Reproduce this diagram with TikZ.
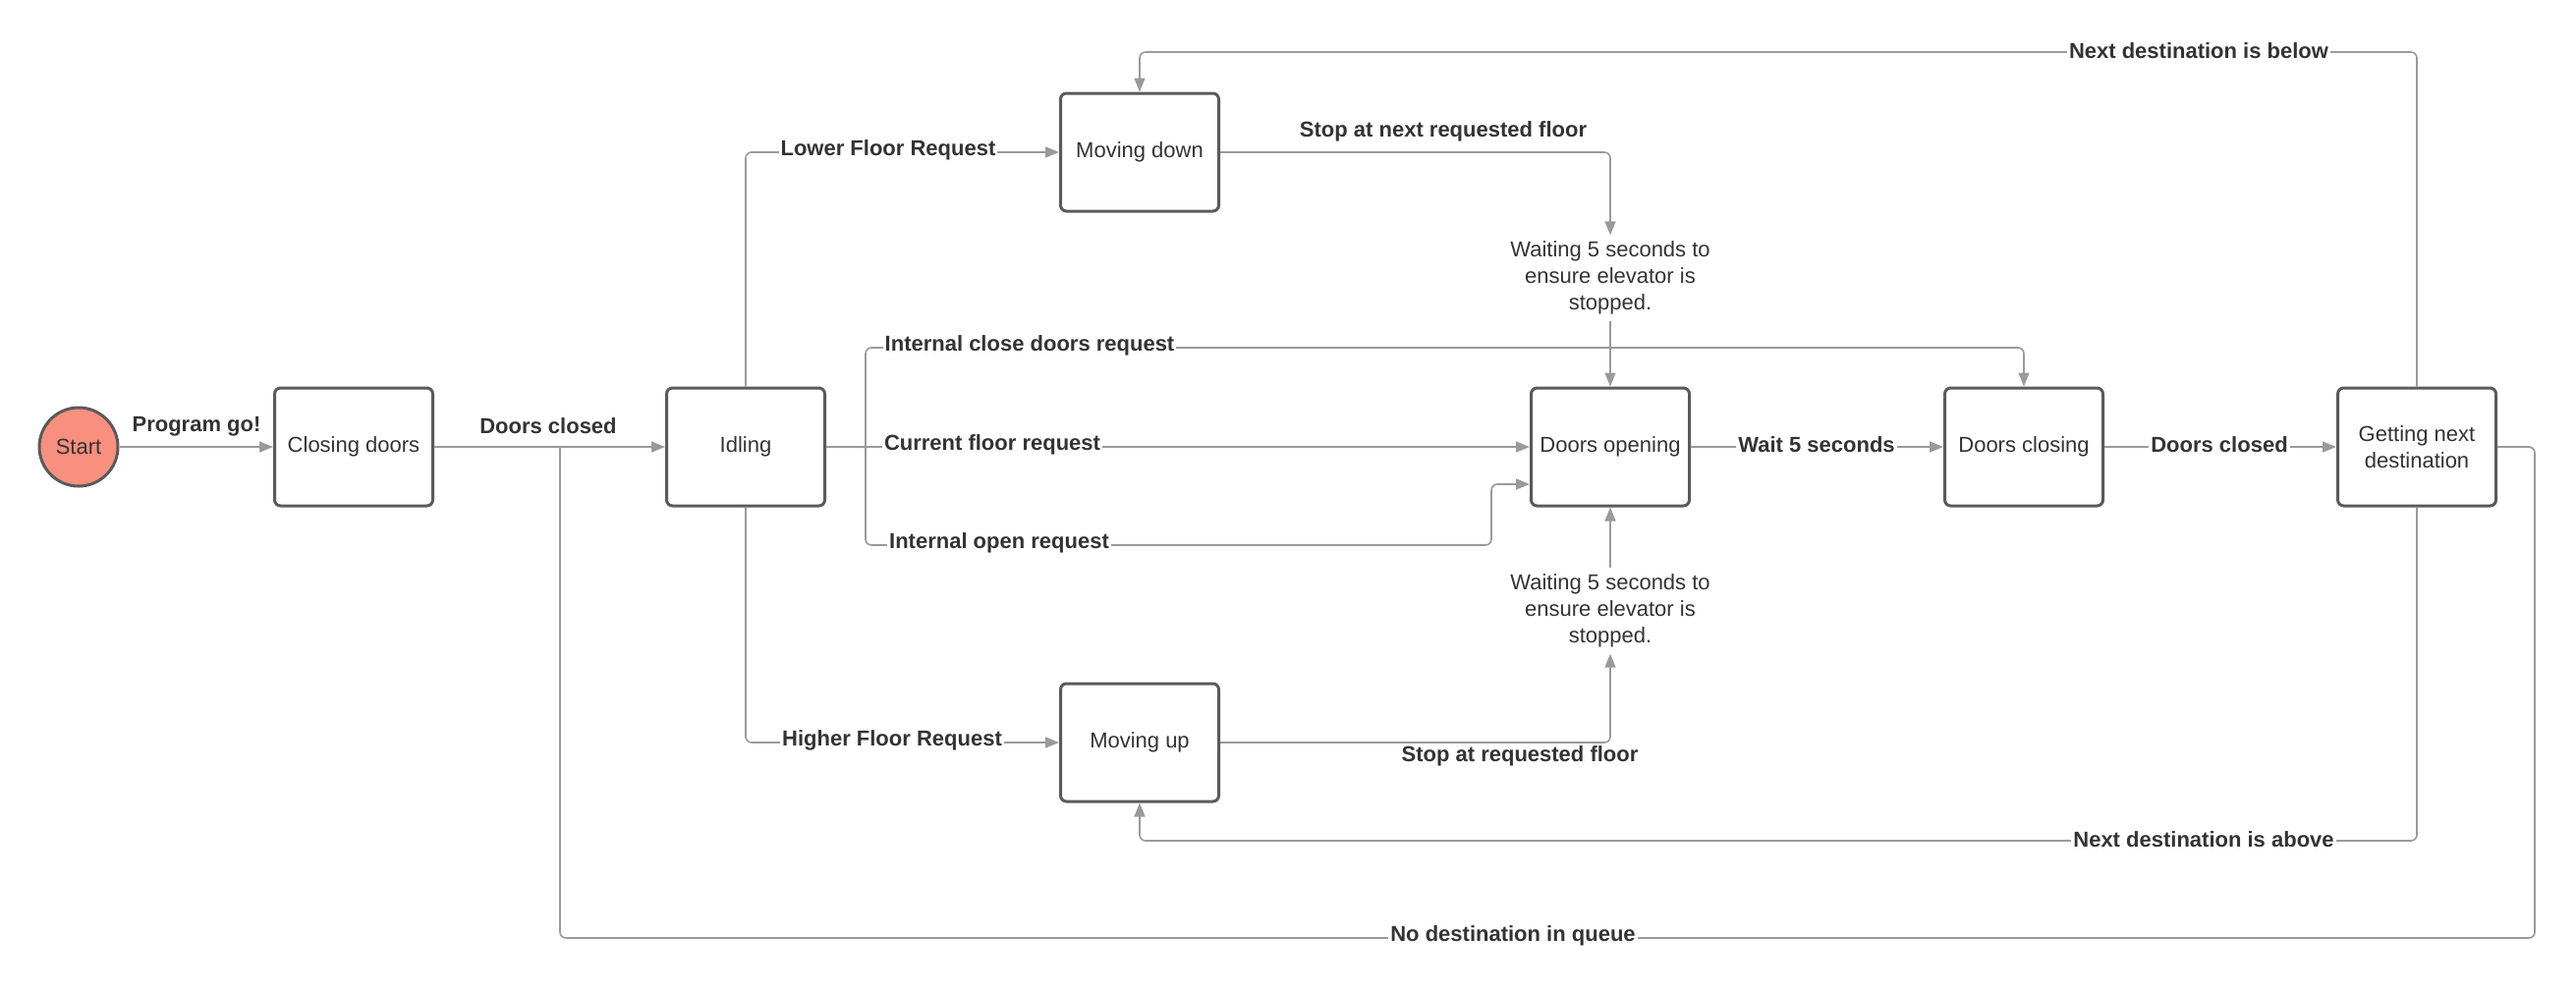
\documentclass[tikz,border=0pt]{standalone}
\usepackage{fontspec}
\setmainfont{Liberation Sans}
\usetikzlibrary{arrows.meta,calc}
\definecolor{linegray}{HTML}{9A9A9A}
\definecolor{boxgray}{HTML}{5A5A5A}
\definecolor{txt}{HTML}{333333}
\definecolor{salmon}{HTML}{F98F7E}
\begin{document}
\begin{tikzpicture}[x=0.5pt,y=-0.5pt,
  state/.style={draw=boxgray,line width=1.5pt,rounded corners=3pt,minimum width=80.5pt,minimum height=60pt,fill=white,text=txt,font=\fontsize{11}{13.5}\selectfont,align=center,inner sep=2pt},
  conn/.style={draw=linegray,line width=0.8pt,rounded corners=3pt},
  arr/.style={conn,-{Triangle[length=7pt,width=5.5pt]}},
  lbl/.style={font=\fontsize{11}{13.5}\selectfont\bfseries,text=txt,fill=white,inner sep=1pt},
  lblfree/.style={font=\fontsize{11}{13.5}\selectfont\bfseries,text=txt,inner sep=1pt},
  note/.style={font=\fontsize{11}{13.5}\selectfont,text=txt,align=center,inner sep=3pt}]
\useasboundingbox (0,0) rectangle (2622,1008);

% states
\node[circle,draw=boxgray,line width=1.5pt,fill=salmon,minimum size=40pt,inner sep=0pt,text=txt,font=\fontsize{11}{13.5}\selectfont] (start) at (80,455) {Start};
\node[state] (closing) at (360,455) {Closing doors};
\node[state] (idle) at (759,455) {Idling};
\node[state] (mdown) at (1160,155) {Moving down};
\node[state] (mup) at (1160,756) {Moving up};
\node[state] (dopen) at (1639,455) {Doors opening};
\node[state] (dclose) at (2060,455) {Doors closing};
\node[state] (getnext) at (2460,455) {Getting next\\destination};
\node[note] (wait1) at (1639,283) {Waiting 5 seconds to\\ensure elevator is\\stopped.};
\node[note] (wait2) at (1639,622) {Waiting 5 seconds to\\ensure elevator is\\stopped.};

% helper coordinates
\coordinate (J) at (881,455);
\coordinate (ctop) at (881,354);
\coordinate (cbot) at (881,555);
\coordinate (obend) at (1518,555);
\coordinate (oin) at (1518,493);
\coordinate (topY) at (0,53);
\coordinate (botY) at (0,856);
\coordinate (rX) at (2580,0);
\coordinate (qY) at (0,955);
\coordinate (jx) at (570,455);

% connectors
\draw[arr] (start) -- (closing);
\draw[arr] (closing) -- (idle);
\draw[conn] (idle.east) -- (J);
\draw[arr] (J) -- (dopen.west);
\draw[arr] (J) -- (ctop) -| (dclose.north);
\draw[arr] (J) -- (cbot) -- (obend) -- (oin) -- (dopen.west |- oin);
\draw[arr] (idle.north) |- (mdown.west);
\draw[arr] (idle.south) |- (mup.west);
\draw[arr] (mdown.east) -| (wait1.north);
\draw[arr] (wait1.south) -- (dopen.north);
\draw[arr] (mup.east) -| (wait2.south);
\draw[arr] (wait2.north) -- (dopen.south);
\draw[arr] (dopen) -- (dclose);
\draw[arr] (dclose) -- (getnext);
\draw[arr] (getnext.north) -- (getnext.north |- topY) -| (mdown.north);
\draw[arr] (getnext.south) -- (getnext.south |- botY) -| (mup.south);
\draw[conn] (getnext.east) -- (getnext.east -| rX) -- (rX |- qY) -- (jx |- qY) -- (jx);

% labels
\node[lblfree] (l1) at (200,434) {Program go!};
\node[lblfree] (l2) at (558,434) {Doors closed};
\node[lbl] (l3) at (1048,352) {Internal close doors request};
\node[lbl] (l4) at (1010,453) {Current floor request};
\node[lbl] (l5) at (1017,553) {Internal open request};
\node[lbl] (l6) at (904,153) {Lower Floor Request};
\node[lbl] (l7) at (908,754) {Higher Floor Request};
\node[lblfree] (l8) at (1469,134) {Stop at next requested floor};
\node[lblfree] (l9) at (1547,770) {Stop at requested floor};
\node[lbl] (l10) at (1849,453) {Wait 5 seconds};
\node[lbl] (l11) at (2259,453) {Doors closed};
\node[lbl] (l12) at (2238,52) {Next destination is below};
\node[lbl] (l13) at (2243,855) {Next destination is above};
\node[lbl] (l14) at (1540,953) {No destination in queue};
\end{tikzpicture}
\end{document}
